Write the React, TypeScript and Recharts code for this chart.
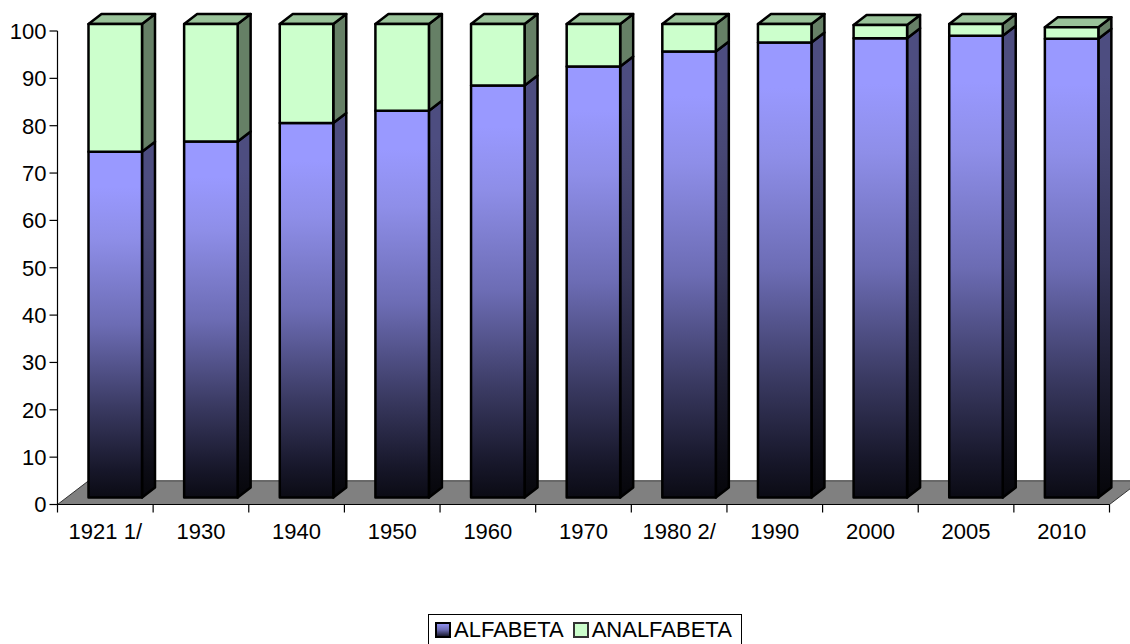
import React from 'react';
import { BarChart, Bar, XAxis, YAxis, ReferenceArea } from 'recharts';

const years = ['1921 1/', '1930', '1940', '1950', '1960', '1970', '1980 2/', '1990', '2000', '2005', '2010'];
const alfabeta = [73, 75.2, 79.1, 81.7, 87, 91, 94.2, 96.1, 97, 97.5, 96.9];
const analfabeta = [27, 24.8, 20.9, 18.3, 13, 9, 5.8, 3.9, 2.8, 2.5, 2.4];
const yTicks = [0, 10, 20, 30, 40, 50, 60, 70, 80, 90, 100];

const data = years.map((year, i) => ({ year, alfabeta: alfabeta[i], analfabeta: analfabeta[i] }));

const FONT = '"Liberation Sans", Arial, sans-serif';
const FONT_SIZE = 22;
const BAND = 1052 / 11;
// offset of the bars from the axes, and the depth of the 3d faces
const SHIFT_X = 10;
const SHIFT_Y = -7;
const DEPTH_X = 13;
const DEPTH_Y = 10;

const Bar3D = (props: any) => {
  const { front, side, top } = props.colors;
  const x = props.x + SHIFT_X;
  const y = props.y + SHIFT_Y;
  const w = props.width;
  const h = props.height;
  return (
    <g stroke="#000" strokeWidth={2.5} strokeLinejoin="round">
      <polygon
        points={`${x + w},${y} ${x + w + DEPTH_X},${y - DEPTH_Y} ${x + w + DEPTH_X},${y + h - DEPTH_Y} ${x + w},${y + h}`}
        fill={side}
      />
      {top && (
        <polygon
          points={`${x},${y} ${x + DEPTH_X},${y - DEPTH_Y} ${x + w + DEPTH_X},${y - DEPTH_Y} ${x + w},${y}`}
          fill={top}
        />
      )}
      <rect x={x} y={y} width={w} height={h} fill={front} />
    </g>
  );
};

const Floor = (props: any) => {
  const { x, y, width, height } = props;
  return (
    <polygon
      points={`${x},${y + height} ${x + 31},${y} ${x + width + 31},${y} ${x + width},${y + height}`}
      fill="#808080"
      stroke="#333"
      strokeWidth={1}
    />
  );
};

const YearTick = (props: any) => {
  const { x, y, index, payload } = props;
  const left = x - BAND / 2;
  return (
    <g>
      <line x1={left} x2={left} y1={y} y2={y + 8} stroke="#000" strokeWidth={1.2} />
      {index === years.length - 1 && (
        <line x1={left + BAND} x2={left + BAND} y1={y} y2={y + 8} stroke="#000" strokeWidth={1.2} />
      )}
      <text x={x} y={y + 34} textAnchor="middle" fontFamily={FONT} fontSize={FONT_SIZE} fill="#000">
        {payload.value}
      </text>
    </g>
  );
};

const swatch = (background: string, border: string): React.CSSProperties => ({
  display: 'inline-block',
  boxSizing: 'border-box',
  width: 16,
  height: 16,
  background,
  border: `2px solid ${border}`,
  marginRight: 3,
});

const ChartLegend = () => (
  <div
    style={{
      position: 'absolute',
      left: 428,
      top: 614,
      width: 314,
      height: 40,
      boxSizing: 'border-box',
      border: '1px solid #000',
      fontFamily: FONT,
      fontSize: FONT_SIZE,
      lineHeight: '30px',
      color: '#000',
      whiteSpace: 'nowrap',
      paddingLeft: 6,
      background: '#fff',
    }}
  >
    <span style={{ display: 'inline-flex', alignItems: 'center', marginRight: 9 }}>
      <span style={swatch('linear-gradient(#8f8fef, #6a6ab0 50%, #1a1a30)', '#000')} />
      ALFABETA
    </span>
    <span style={{ display: 'inline-flex', alignItems: 'center' }}>
      <span style={swatch('#ccffcc', '#333')} />
      ANALFABETA
    </span>
  </div>
);

export default function App() {
  return (
    <div style={{ position: 'absolute', left: 0, top: 0, width: 1130, height: 644, overflow: 'hidden', background: '#fff' }}>
      <BarChart
        width={1130}
        height={644}
        data={data}
        barSize={53.5}
        margin={{ top: 31, right: 20.5, bottom: 99.5, left: 0 }}
      >
        <defs>
          <linearGradient id="frontFill" x1="0" y1="0" x2="0" y2="1">
            <stop offset="0%" stopColor="#9999ff" />
            <stop offset="10%" stopColor="#9999ff" />
            <stop offset="25%" stopColor="#8e8ee8" />
            <stop offset="50%" stopColor="#6c6cb4" />
            <stop offset="74%" stopColor="#3a3a62" />
            <stop offset="92%" stopColor="#17172a" />
            <stop offset="100%" stopColor="#0b0b14" />
          </linearGradient>
          <linearGradient id="sideFill" x1="0" y1="0" x2="0" y2="1">
            <stop offset="0%" stopColor="#4d4d80" />
            <stop offset="10%" stopColor="#4d4d80" />
            <stop offset="25%" stopColor="#474774" />
            <stop offset="50%" stopColor="#36365a" />
            <stop offset="74%" stopColor="#1d1d31" />
            <stop offset="92%" stopColor="#0c0c15" />
            <stop offset="100%" stopColor="#06060a" />
          </linearGradient>
        </defs>
        <ReferenceArea y1={0} y2={5} ifOverflow="visible" shape={Floor} />
        <XAxis
          dataKey="year"
          height={40}
          interval={0}
          tickLine={false}
          tickSize={0}
          tickMargin={0}
          axisLine={{ stroke: '#000', strokeWidth: 1.2 }}
          tick={YearTick}
        />
        <YAxis
          width={57.5}
          domain={[0, 100]}
          ticks={yTicks}
          interval={0}
          tickSize={8}
          tickMargin={3}
          axisLine={{ stroke: '#000', strokeWidth: 1.2 }}
          tickLine={{ stroke: '#000', strokeWidth: 1.2 }}
          tick={{ fill: '#000', fontFamily: FONT, fontSize: FONT_SIZE }}
        />
        <Bar
          dataKey="alfabeta"
          stackId="a"
          isAnimationActive={false}
          shape={(p: any) => <Bar3D {...p} colors={{ front: 'url(#frontFill)', side: 'url(#sideFill)' }} />}
        />
        <Bar
          dataKey="analfabeta"
          stackId="a"
          isAnimationActive={false}
          shape={(p: any) => <Bar3D {...p} colors={{ front: '#ccffcc', side: '#668066', top: '#99c299' }} />}
        />
      </BarChart>
      <ChartLegend />
    </div>
  );
}
